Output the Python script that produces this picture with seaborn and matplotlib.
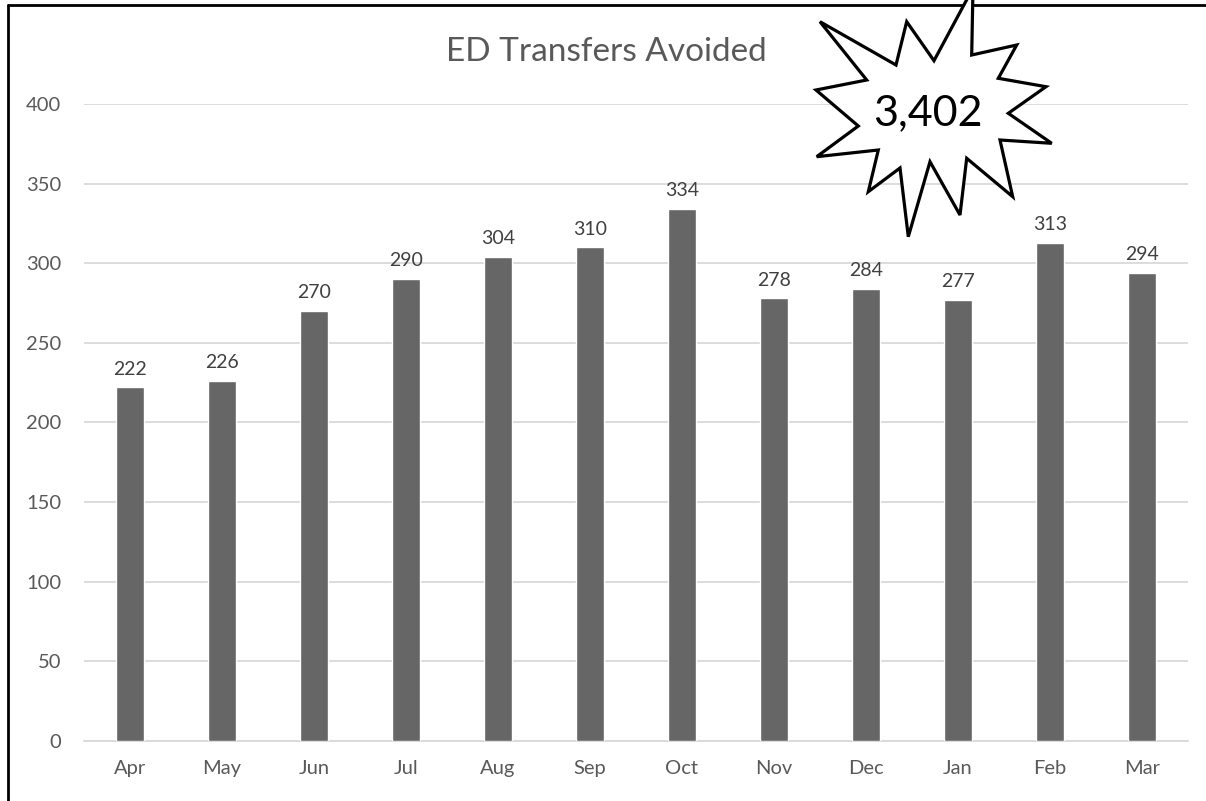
import matplotlib
matplotlib.use('Agg')
import matplotlib.pyplot as plt
import seaborn as sns
import pandas as pd
from matplotlib.patches import Polygon
from matplotlib.lines import Line2D

months = ['Apr', 'May', 'Jun', 'Jul', 'Aug', 'Sep', 'Oct', 'Nov', 'Dec', 'Jan', 'Feb', 'Mar']
transfers = [222, 226, 270, 290, 304, 310, 334, 278, 284, 277, 313, 294]
total_label = '3,402'
y_ticks = [0, 50, 100, 150, 200, 250, 300, 350, 400]

sns.set_style('white')
plt.rcParams['font.family'] = ['Lato', 'DejaVu Sans']

df = pd.DataFrame({'month': months, 'transfers': transfers})

fig = plt.figure(figsize=(12.06, 8.01), dpi=100)
ax = fig.add_axes([0.0697, 0.0749, 0.9153, 0.7953])

sns.barplot(data=df, x='month', y='transfers', color='#666666', saturation=1,
            width=0.31, ax=ax, zorder=3)
ax.bar_label(ax.containers[0], padding=7, fontsize=14, color='#404040')

ax.set_xlim(-0.5, len(months) - 0.5)
ax.set_ylim(0, 400)
ax.set_yticks(y_ticks)
ax.yaxis.grid(True, color='#d9d9d9', lw=1.3, zorder=0)
ax.set_axisbelow(True)
for s in ['top', 'right', 'left']:
    ax.spines[s].set_visible(False)
ax.spines['bottom'].set_color('#d9d9d9')
ax.spines['bottom'].set_linewidth(1.3)
ax.tick_params(axis='both', length=0, labelsize=14.5, labelcolor='#595959')
ax.tick_params(axis='y', pad=16.5)
ax.tick_params(axis='x', pad=14)
ax.set_xlabel('')
ax.set_ylabel('')

fig.text(0.503, 0.935, 'ED Transfers Avoided', ha='center', va='center',
         fontsize=24, color='#595959')

# frame (cropped: only top and left edges visible)
fig.add_artist(Line2D([7.5 / 1206, 7.5 / 1206], [0, 1 - 5 / 801], color='black', lw=2,
                      transform=fig.transFigure))
fig.add_artist(Line2D([7.5 / 1206, 1], [1 - 5 / 801, 1 - 5 / 801], color='black', lw=2,
                      transform=fig.transFigure))

# starburst callout
star_px = [(820, 21.7), (896, 65), (906.7, 21.7), (934, 60.7), (973, -12), (971.7, 55),
           (1016.7, 45), (998.3, 78.3), (1046, 86.7), (1008.3, 113.3), (1051.7, 143.3),
           (1000, 140), (1012.7, 196.7), (966.7, 158.3), (960, 215), (930, 161.7),
           (908.3, 236.7), (900, 168), (868.3, 191.7), (878.3, 150), (816.7, 156.7),
           (858.3, 126), (816, 90), (866.7, 80)]
star = Polygon([(x / 1206, 1 - y / 801) for x, y in star_px], closed=True,
               facecolor='white', edgecolor='black', lw=2.3, joinstyle='miter',
               transform=fig.transFigure, zorder=10)
fig.add_artist(star)
fig.text(928 / 1206, 1 - 113 / 801, total_label, ha='center', va='center',
         fontsize=31, color='black', zorder=11)

fig.savefig('out.png', dpi=100)
